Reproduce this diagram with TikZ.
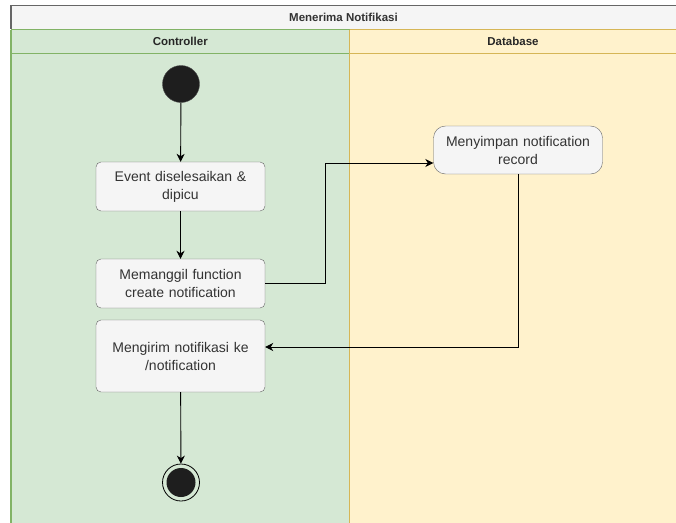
\documentclass[tikz,border=0pt]{standalone}
\usepackage{fontspec}
\setmainfont{Liberation Sans}
\usetikzlibrary{arrows.meta}

\definecolor{hdrfill}{HTML}{F5F5F5}
\definecolor{hdrline}{HTML}{666666}
\definecolor{ctrlfill}{HTML}{D5E8D4}
\definecolor{ctrlline}{HTML}{82B366}
\definecolor{dbfill}{HTML}{FFF2CC}
\definecolor{dbline}{HTML}{D6B656}
\definecolor{acttext}{HTML}{333333}
\definecolor{dot}{HTML}{1E1E1E}

\begin{document}
\begin{tikzpicture}[x=1pt, y=-1pt,
    act/.style={rectangle, rounded corners=5pt, draw=hdrline, fill=hdrfill, text=acttext,
      minimum width=169pt, minimum height=49pt, inner sep=1pt, text width=167pt, align=center,
      font=\fontsize{14}{18}\selectfont},
    lanehead/.style={minimum height=24pt, inner sep=0pt, font=\fontsize{11.5}{14}\selectfont\bfseries},
    flow/.style={-{Stealth[length=8pt, width=8pt, inset=2.5pt]}, line width=0.9pt}]
    \useasboundingbox (0,0) rectangle (676,522);

    \fill[ctrlfill] (11,29.5) rectangle (349.5,530);
    \fill[dbfill] (349.5,29.5) rectangle (690,530);
    \draw[ctrlline, line width=1.2pt] (11,29.5) -- (349.5,29.5) (11,53.5) -- (349.5,53.5) (11,29.5) -- (11,530);
    \draw[dbline, line width=1.2pt] (349.5,29.5) -- (690,29.5) (349.5,53.5) -- (690,53.5) (349.5,29.5) -- (349.5,530);
    \fill[hdrfill] (11,5.5) rectangle (690,29);
    \draw[hdrline, line width=1.2pt] (11,29) -- (11,5.5) -- (690,5.5);

    \node[lanehead, minimum width=665pt, text=acttext] (title) at (343.5,17.5) {Menerima Notifikasi};
    \node[lanehead, minimum width=338pt, text=black!85] (ctrl) at (180.25,41.5) {Controller};
    \node[lanehead, minimum width=326pt, text=black!85] (db) at (513,41.5) {Database};

    \node[circle, fill=dot, draw=black!70, minimum size=37pt, inner sep=0pt] (start) at (181,84) {};
    \node[act] (event) at (180.5,186.5) {Event diselesaikan \&\\dipicu};
    \node[act] (call) at (180.5,283.5) {Memanggil function\\create notification};
    \node[act, minimum height=72pt] (send) at (180.5,356) {Mengirim notifikasi ke\\/notification};
    \node[act, rounded corners=12pt, minimum height=48pt] (store) at (518,150) {Menyimpan notification\\record};
    \node[circle, draw=black, line width=0.8pt, minimum size=37pt, inner sep=0pt] (stop) at (181,482.5) {};
    \node[circle, fill=dot, minimum size=29pt, inner sep=0pt] (stopdot) at (stop) {};

    \draw[flow] (start) -- (event);
    \draw[flow] (event) -- (call);
    \draw[flow] (call.east) -| (325,163) -- (store.west |- 0,163);
    \draw[flow] (store.south) |- (send.east |- 0,347);
    \draw[flow] (send) -- (stop);
\end{tikzpicture}
\end{document}
